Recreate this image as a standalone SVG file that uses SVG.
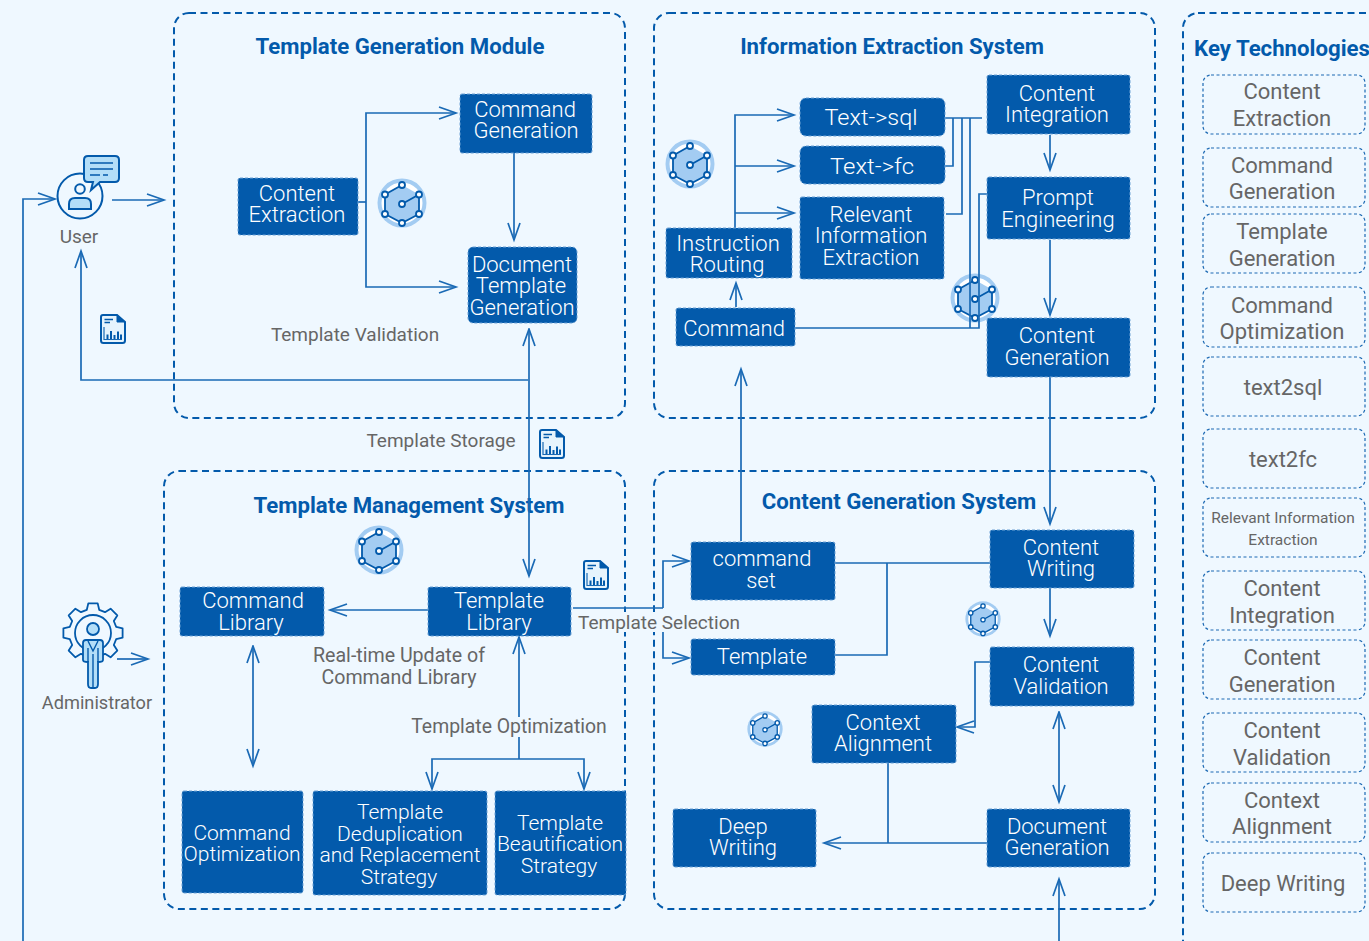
<svg xmlns="http://www.w3.org/2000/svg" width="1369" height="941" viewBox="0 0 1369 941">
<style>
text{font-family:Roboto,"Noto Sans",sans-serif;text-anchor:middle}
.bg{fill:#eff8ff}
.grp{fill:none;stroke:#035aab;stroke-width:2;stroke-dasharray:7 4.5}
.n{fill:#035aab;stroke:#6fa3d6;stroke-width:1;stroke-dasharray:3 2}
.nt{fill:#fff;font-size:22px;font-weight:300}
.sm{font-size:21px}
.title{fill:#035aab;font-size:22.2px;font-weight:700}
.lab{fill:#666;font-size:19px}
.k{fill:none;stroke:#1c69b3;stroke-width:1.2;stroke-dasharray:3 2.5}
.kt{fill:#666;font-size:22px}
.c{fill:none;stroke:#1a6ab5;stroke-width:1.7}
.a{marker-end:url(#ah)}
.b{marker-start:url(#ahs);marker-end:url(#ah)}
</style>
<defs>
<marker id="ah" markerUnits="userSpaceOnUse" markerWidth="24" markerHeight="20" refX="18" refY="10" orient="auto"><path d="M1 4 L18 10 L1 16" fill="none" stroke="#1a6ab5" stroke-width="1.7"/></marker>
<marker id="ahs" markerUnits="userSpaceOnUse" markerWidth="24" markerHeight="20" refX="1" refY="10" orient="auto"><path d="M18 4 L1 10 L18 16" fill="none" stroke="#1a6ab5" stroke-width="1.7"/></marker>
<symbol id="hex" viewBox="-25 -25 50 50" overflow="visible">
<circle r="24.5" fill="#a3ccf2"/><circle r="20.5" fill="#fff"/>
<path d="M0 -18 L17 -8.5 L17 11 L0 20 L-17 11 L-17 -8.5Z" fill="#a3ccf2"/>
<path d="M-17 -8.5 L0 -18 M17 -8.5 V11 L0 20 L-17 11 V-8.5 M0 1 L17 -8.5" fill="none" stroke="#035aab" stroke-width="1.8"/>
<g fill="#fff" stroke="#035aab" stroke-width="1.8"><circle cx="0" cy="-18" r="3"/><circle cx="17" cy="-8.5" r="3"/><circle cx="17" cy="11" r="3"/><circle cx="0" cy="20" r="3"/><circle cx="-17" cy="11" r="3"/><circle cx="-17" cy="-8.5" r="3"/><circle cx="0" cy="1" r="3"/></g>
</symbol>
<symbol id="doc" viewBox="0 0 26 30" overflow="visible">
<path d="M3 1H17L25 8V26.500A2.500 2.500 0 0 1 22.500 29H3.500A2.500 2.500 0 0 1 1 26.500V3A2 2 0 0 1 3 1Z" fill="#e6f4fd" stroke="#035aab" stroke-width="2"/>
<path d="M17 1V8H25Z" fill="#035aab" stroke="#035aab" stroke-width="1"/>
<path d="M4.500 5.500H13M4.500 8.500H10" fill="none" stroke="#035aab" stroke-width="1.300"/>
<path d="M4 13V25.500H22" fill="none" stroke="#1a6ab5" stroke-width="1.200"/>
<path d="M7.500 25V20.500M11 25V17M14.500 25V21M18 25V17.500M21 25V20.500" fill="none" stroke="#035aab" stroke-width="2"/>
</symbol>
</defs>
<rect class="bg" width="1369" height="941"/>

<g id="groups">
<rect class="grp" x="174" y="13" width="451" height="405" rx="15"/>
<rect class="grp" x="654" y="13" width="501" height="405" rx="15"/>
<rect class="grp" x="164" y="471" width="461" height="438" rx="15"/>
<rect class="grp" x="654" y="471" width="501" height="438" rx="15"/>
<rect class="grp" x="1183" y="13" width="220" height="960" rx="15"/>
<text class="title" x="400" y="54">Template Generation Module</text>
<text class="title" x="892" y="54">Information Extraction System</text>
<text class="title" x="409" y="513">Template Management System</text>
<text class="title" x="899" y="509">Content Generation System</text>
<text class="title" x="1282" y="56">Key Technologies</text>
</g>

<g id="icons">
<use href="#hex" x="377" y="178" width="50" height="50"/>
<use href="#hex" x="665" y="139" width="50" height="50"/>
<use href="#hex" x="950" y="273" width="50" height="50"/>
<use href="#hex" x="354" y="525" width="50" height="50"/>
<use href="#hex" x="965" y="601" width="36" height="36"/>
<use href="#hex" x="747" y="711" width="36" height="36"/>
<use href="#doc" x="100" y="314" width="26" height="30"/>
<use href="#doc" x="539" y="429" width="26" height="30"/>
<use href="#doc" x="583" y="560" width="26" height="30"/>
</g>

<g id="connectors">
<path class="c a" d="M23 941V199H55"/>
<path class="c a" d="M112 200H164"/>
<path class="c a" d="M528 380H81V251"/>
<path class="c" d="M358 202H366"/>
<path class="c a" d="M366 202V113H456"/>
<path class="c a" d="M366 202V287H456"/>
<path class="c a" d="M514 153V240"/>
<path class="c b" d="M529 329V576"/>
<path class="c a" d="M428 610H330"/>
<path class="c b" d="M253 646V766"/>
<path class="c a" d="M519 759V637"/>
<path class="c a" d="M519 759H432V789"/>
<path class="c a" d="M519 759H584V789"/>
<path class="c" d="M573 608H663"/>
<path class="c a" d="M663 608V561H689"/>
<path class="c a" d="M663 631V658H689"/>
<path class="c a" d="M741 541V369"/>
<path class="c" d="M835 563H990"/>
<path class="c" d="M835 655H887V563"/>
<path class="c a" d="M1050 588V636"/>
<path class="c a" d="M1050 377V524"/>
<path class="c a" d="M990 662H975V727H957"/>
<path class="c b" d="M1059 712V802"/>
<path class="c a" d="M987 843H824"/>
<path class="c" d="M888 763V843"/>
<path class="c a" d="M1059 941V879"/>
<path class="c a" d="M735 228V115H794"/>
<path class="c a" d="M735 166H794"/>
<path class="c a" d="M735 213H794"/>
<path class="c" d="M945 118H982"/>
<path class="c" d="M945 166H953V118"/>
<path class="c" d="M946 214H962V118"/>
<path class="c" d="M970 118V328"/>
<path class="c" d="M795 328H979V194H987"/>
<path class="c a" d="M1050 135V170"/>
<path class="c a" d="M1050 240V315"/>
<path class="c a" d="M736 307V283"/>
</g>

<g id="user">
<circle cx="80" cy="196" r="22.500" fill="#eff8ff" stroke="#035aab" stroke-width="2"/>
<circle cx="80" cy="189" r="4.800" fill="#eff8ff" stroke="#035aab" stroke-width="2"/>
<path d="M69 209V204Q69 198 75 198H85Q91 198 91 204V209Z" fill="#b3def8" stroke="#035aab" stroke-width="2"/>
<path d="M88 156H115Q119 156 119 160V178Q119 182 115 182H100L91 190L93 182H88Q84 182 84 178V160Q84 156 88 156Z" fill="#b3def8" stroke="#035aab" stroke-width="2"/>
<path d="M90 163H113M90 169H113M90 175H100M103 175H108" fill="none" stroke="#035aab" stroke-width="1.400"/>
<text class="lab" x="79" y="243">User</text>
</g>

<g id="administrator">
<path transform="translate(93 633)" d="M-6.200 -23.200L-4.700 -29.600H4.700L6.200 -23.200L12 -20.800L17.600 -24.300L24.300 -17.600L20.800 -12L23.200 -6.200L29.600 -4.700V4.700L23.200 6.200L20.800 12L24.300 17.600L17.600 24.300L12 20.800L6.200 23.200L4.700 29.600H-4.700L-6.200 23.200L-12 20.800L-17.600 24.300L-24.300 17.600L-20.800 12L-23.200 6.200L-29.600 4.700V-4.700L-23.200 -6.200L-20.800 -12L-24.300 -17.600L-17.600 -24.300L-12 -20.800Z" fill="#eff8ff" stroke="#035aab" stroke-width="1.800" stroke-linejoin="round"/>
<circle cx="93" cy="633" r="18" fill="#eff8ff" stroke="#035aab" stroke-width="1.800"/>
<circle cx="93" cy="629" r="6" fill="#b3def8" stroke="#035aab" stroke-width="1.800"/>
<path d="M86 640H100Q103 640 103 643V660Q103 662 98 662V684Q98 688 95 688H91Q88 688 88 684V662Q83 662 83 660V643Q83 640 86 640Z" fill="#b3def8" stroke="#035aab" stroke-width="1.800"/>
<path d="M93 654V688M88 641L93 651L98 641M88 648V662M98 648V662" fill="none" stroke="#035aab" stroke-width="1.400"/>
<path class="c a" d="M117 659H148"/>
<text class="lab" x="97" y="709" style="font-size:18.200px">Administrator</text>
</g>

<g id="content-extraction"><rect class="n" x="238" y="178" width="120" height="57" rx="2"/><text class="nt" x="297" y="201">Content</text><text class="nt" x="297" y="222">Extraction</text></g>
<g id="command-generation"><rect class="n" x="460" y="94" width="132" height="59" rx="2"/><text class="nt" x="525" y="117">Command</text><text class="nt" x="526" y="138">Generation</text></g>
<g id="document-template-generation"><rect class="n" x="468" y="247" width="109" height="76" rx="5"/><text class="nt" x="522" y="272">Document</text><text class="nt" x="521" y="293">Template</text><text class="nt" x="522" y="315">Generation</text></g>
<g id="text-sql"><rect class="n" x="800" y="98" width="145" height="38" rx="6"/><text class="nt" x="871" y="125" textLength="93" lengthAdjust="spacingAndGlyphs">Text-&gt;sql</text></g>
<g id="text-fc"><rect class="n" x="800" y="146" width="145" height="38" rx="6"/><text class="nt" x="872" y="174" textLength="84" lengthAdjust="spacingAndGlyphs">Text-&gt;fc</text></g>
<g id="relevant-information-extraction"><rect class="n" x="800" y="197" width="144" height="82" rx="2"/><text class="nt" x="871" y="222">Relevant</text><text class="nt" x="871" y="243">Information</text><text class="nt" x="871" y="265">Extraction</text></g>
<g id="content-integration"><rect class="n" x="987" y="75" width="143" height="59" rx="2"/><text class="nt" x="1057" y="101">Content</text><text class="nt" x="1057" y="122">Integration</text></g>
<g id="prompt-engineering"><rect class="n" x="987" y="177" width="143" height="62" rx="2"/><text class="nt" x="1058" y="205">Prompt</text><text class="nt" x="1058" y="227">Engineering</text></g>
<g id="content-generation"><rect class="n" x="987" y="318" width="143" height="59" rx="2"/><text class="nt" x="1057" y="343">Content</text><text class="nt" x="1057" y="365">Generation</text></g>
<g id="instruction-routing"><rect class="n" x="666" y="228" width="126" height="50" rx="2"/><text class="nt" x="728" y="251">Instruction</text><text class="nt" x="727" y="272">Routing</text></g>
<g id="command"><rect class="n" x="676" y="308" width="119" height="38" rx="2"/><text class="nt" x="734" y="336">Command</text></g>
<g id="template-library"><rect class="n" x="428" y="587" width="143" height="49" rx="2"/><text class="nt" x="499" y="608">Template</text><text class="nt" x="499" y="630">Library</text></g>
<g id="command-library"><rect class="n" x="180" y="587" width="144" height="49" rx="2"/><text class="nt" x="253" y="608">Command</text><text class="nt" x="251" y="630">Library</text></g>
<g id="command-optimization"><rect class="n" x="182" y="791" width="121" height="102" rx="2"/><text class="nt sm" x="242" y="840">Command</text><text class="nt sm" x="242" y="861">Optimization</text></g>
<g id="template-dedup"><rect class="n" x="313" y="791" width="174" height="104" rx="2"/><text class="nt sm" x="400" y="819">Template</text><text class="nt sm" x="400" y="841">Deduplication</text><text class="nt sm" x="400" y="862">and Replacement</text><text class="nt sm" x="399" y="884">Strategy</text></g>
<g id="template-beautification"><rect class="n" x="495" y="791" width="131" height="104" rx="2"/><text class="nt sm" x="560" y="830">Template</text><text class="nt sm" x="560" y="851">Beautification</text><text class="nt sm" x="559" y="873">Strategy</text></g>
<g id="command-set"><rect class="n" x="691" y="542" width="144" height="58" rx="2"/><text class="nt" x="762" y="566">command</text><text class="nt" x="761" y="588">set</text></g>
<g id="template"><rect class="n" x="691" y="639" width="144" height="36" rx="2"/><text class="nt" x="762" y="664">Template</text></g>
<g id="content-writing"><rect class="n" x="990" y="530" width="144" height="58" rx="2"/><text class="nt" x="1061" y="555">Content</text><text class="nt" x="1061" y="576">Writing</text></g>
<g id="content-validation"><rect class="n" x="990" y="647" width="144" height="59" rx="2"/><text class="nt" x="1061" y="672">Content</text><text class="nt" x="1061" y="694">Validation</text></g>
<g id="context-alignment"><rect class="n" x="812" y="705" width="144" height="58" rx="2"/><text class="nt" x="883" y="730">Context</text><text class="nt" x="883" y="751">Alignment</text></g>
<g id="deep-writing"><rect class="n" x="673" y="809" width="143" height="58" rx="2"/><text class="nt" x="743" y="834">Deep</text><text class="nt" x="743" y="855">Writing</text></g>
<g id="document-generation"><rect class="n" x="987" y="809" width="143" height="58" rx="2"/><text class="nt" x="1057" y="834">Document</text><text class="nt" x="1057" y="855">Generation</text></g>

<g id="labels">
<text class="lab" x="355" y="341">Template Validation</text>
<text class="lab" x="441" y="447">Template Storage</text>
<rect class="bg" x="578" y="612" width="164" height="20"/>
<text class="lab" x="659" y="629">Template Selection</text>
<text class="lab" x="399" y="662" style="font-size:19.600px">Real-time Update of</text>
<text class="lab" x="399" y="684" style="font-size:19.600px">Command Library</text>
<rect class="bg" x="411" y="717" width="197" height="20"/>
<text class="lab" x="509" y="733" style="font-size:19.400px">Template Optimization</text>
</g>

<g id="key-technologies">
<rect class="k" x="1203" y="75" width="162" height="59" rx="8"/><text class="kt" x="1282" y="99">Content</text><text class="kt" x="1282" y="126">Extraction</text>
<rect class="k" x="1203" y="148" width="162" height="59" rx="8"/><text class="kt" x="1282" y="173">Command</text><text class="kt" x="1282" y="199">Generation</text>
<rect class="k" x="1203" y="214" width="162" height="59" rx="8"/><text class="kt" x="1282" y="239">Template</text><text class="kt" x="1282" y="266">Generation</text>
<rect class="k" x="1203" y="287" width="162" height="60" rx="8"/><text class="kt" x="1282" y="313">Command</text><text class="kt" x="1282" y="339">Optimization</text>
<rect class="k" x="1203" y="357" width="162" height="59" rx="8"/><text class="kt" x="1283" y="395">text2sql</text>
<rect class="k" x="1203" y="429" width="162" height="59" rx="8"/><text class="kt" x="1283" y="467">text2fc</text>
<rect class="k" x="1203" y="498" width="162" height="59" rx="8"/><text class="kt" style="font-size:15.500px" x="1283" y="523">Relevant Information</text><text class="kt" style="font-size:15.500px" x="1283" y="545">Extraction</text>
<rect class="k" x="1203" y="571" width="162" height="59" rx="8"/><text class="kt" x="1282" y="596">Content</text><text class="kt" x="1282" y="623">Integration</text>
<rect class="k" x="1203" y="640" width="162" height="59" rx="8"/><text class="kt" x="1282" y="665">Content</text><text class="kt" x="1282" y="692">Generation</text>
<rect class="k" x="1203" y="713" width="162" height="59" rx="8"/><text class="kt" x="1282" y="738">Content</text><text class="kt" x="1282" y="765">Validation</text>
<rect class="k" x="1203" y="783" width="162" height="59" rx="8"/><text class="kt" x="1282" y="808">Context</text><text class="kt" x="1282" y="834">Alignment</text>
<rect class="k" x="1203" y="853" width="162" height="59" rx="8"/><text class="kt" x="1283" y="891">Deep Writing</text>
</g>
</svg>
